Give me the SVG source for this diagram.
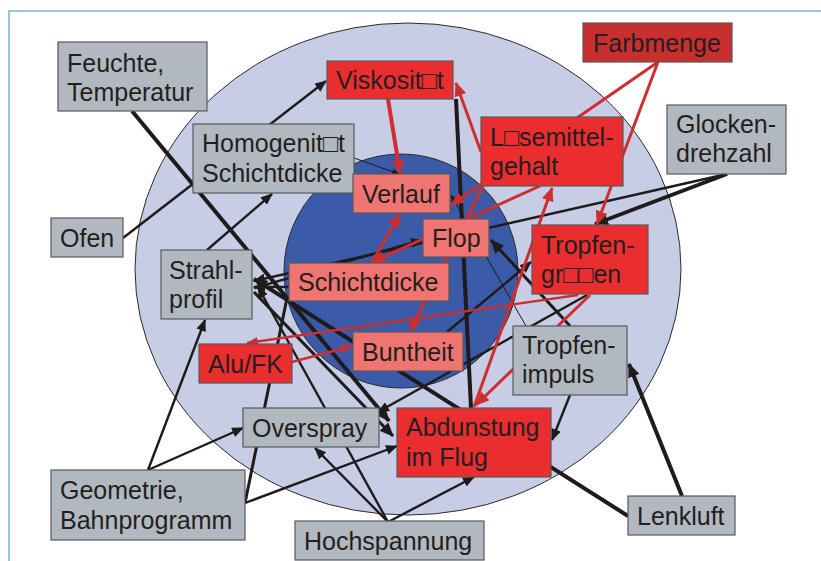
<svg xmlns="http://www.w3.org/2000/svg" width="821" height="561" viewBox="0 0 821 561">
<style>
.frame{stroke:#7ab0d8;stroke-width:1.5;fill:none}
.node rect{stroke:#58595b;stroke-width:1.2}
.gray rect{fill:#b2b8bf}
.red rect{fill:#ea2e2f}
.dred rect{fill:#c92f2f}
.pink rect{fill:#f07572}
.node text{font-family:"Liberation Sans",Arial,sans-serif;font-size:25px;fill:#231f20}
.c path{fill:none}
.bk{stroke:#1f1a1b}
.rd{stroke:#cf2e2e}
.w4{stroke-width:4}
.w3{stroke-width:3}
.w2{stroke-width:2.4}
.w1{stroke-width:1}
</style>
<defs>
<marker id="ab" viewBox="0 0 14 12" refX="13" refY="6" markerWidth="14" markerHeight="12" markerUnits="userSpaceOnUse" orient="auto"><path d="M0,0 L14,6 L0,12 z" fill="#1f1a1b"/></marker>
<marker id="am" viewBox="0 0 12 10" refX="11" refY="5" markerWidth="12" markerHeight="10" markerUnits="userSpaceOnUse" orient="auto"><path d="M0,0 L12,5 L0,10 z" fill="#1f1a1b"/></marker>
<marker id="as" viewBox="0 0 8 6" refX="7" refY="3" markerWidth="8" markerHeight="6" markerUnits="userSpaceOnUse" orient="auto"><path d="M0,0 L8,3 L0,6 z" fill="#1f1a1b"/></marker>
<marker id="ar" viewBox="0 0 14 12" refX="13" refY="6" markerWidth="14" markerHeight="12" markerUnits="userSpaceOnUse" orient="auto"><path d="M0,0 L14,6 L0,12 z" fill="#cf2e2e"/></marker>
<marker id="ars" viewBox="0 0 12 9" refX="11" refY="4.5" markerWidth="12" markerHeight="9" markerUnits="userSpaceOnUse" orient="auto"><path d="M0,0 L12,4.5 L0,9 z" fill="#cf2e2e"/></marker>
</defs>
<rect width="821" height="561" fill="#ffffff"/>
<path class="frame" d="M9,561 L9,11 L821,11"/>
<ellipse cx="408" cy="269" rx="273" ry="246" fill="#c8cde6" stroke="#2b2b2b" stroke-width="1"/>
<circle cx="401" cy="271" r="117" fill="#3b5ba8" stroke="#2b2b2b" stroke-width="1"/>
<g id="connectors" class="c">
<path class="bk w4" d="M132,111 L389,421" marker-end="url(#ab)"/>
<path class="bk w4" d="M628,516 L254,279" marker-end="url(#ab)"/>
<path class="bk w4" d="M682,496 L629,364" marker-end="url(#ab)"/>
<path class="bk w3" d="M570,326 L491,240" marker-end="url(#ab)"/>
<path class="bk w4" d="M727,174 L595,224" marker-end="url(#ab)"/>
<path class="bk w4" d="M456,99 L471,408"/>
<path class="bk w3" d="M245,503 L287,298"/>
<path class="bk w2" d="M123,238 L326,81" marker-end="url(#am)"/>
<path class="bk w2" d="M207,250 L272,194" marker-end="url(#am)"/>
<path class="bk w2" d="M148,470 L205,320" marker-end="url(#am)"/>
<path class="bk w2" d="M148,470 L243,428" marker-end="url(#am)"/>
<path class="bk w2" d="M245,503 L397,446" marker-end="url(#am)"/>
<path class="bk w2" d="M388,522 L315,448" marker-end="url(#am)"/>
<path class="bk w2" d="M388,522 L474,477" marker-end="url(#am)"/>
<path class="bk w2" d="M388,522 L258,287" marker-end="url(#am)"/>
<path class="bk w2" d="M570,395 L552,440" marker-end="url(#am)"/>
<path class="bk w2" d="M727,174 L254,281" marker-end="url(#am)"/>
<path class="bk w2" d="M254,288 L422,240" marker-end="url(#am)"/>
<path class="bk w2" d="M289,287 L254,287" marker-end="url(#am)"/>
<path class="bk w2" d="M447,332 L531,262" marker-end="url(#am)"/>
<path class="bk w3" d="M254,292 L393,436" marker-end="url(#ab)"/>
<path class="bk w2" d="M587,295 L378,412" marker-end="url(#am)"/>
<path class="bk w1" d="M354,158 L399,174" marker-end="url(#as)"/>
<path class="bk w1" d="M526,326 L451,195" marker-end="url(#as)"/>
<path class="rd w4" d="M388,99 L400,173" marker-end="url(#ar)"/>
<path class="rd w3" d="M481,152 L456,83" marker-end="url(#ar)"/>
<path class="rd w3" d="M658,62 L451,205" marker-end="url(#ar)"/>
<path class="rd w3" d="M658,62 L597,224" marker-end="url(#ar)"/>
<path class="rd w3" d="M474,407 L552,188" marker-end="url(#ar)"/>
<path class="rd w3" d="M590,295 L476,405" marker-end="url(#ar)"/>
<path class="rd w3" d="M540,186 L372,262" marker-end="url(#ar)"/>
<path class="rd w3" d="M372,262 L400,214" marker-end="url(#ar)"/>
<path class="rd w3" d="M483,186 L410,331" marker-end="url(#ar)"/>
<path class="rd w2" d="M578,295 L247,343" marker-end="url(#ars)"/>
<path class="rd w2" d="M292,362 L352,346" marker-end="url(#ars)"/>
</g>
<g id="feuchte" class="node gray"><rect x="58" y="42" width="149" height="69"/><text x="67" y="72">Feuchte,</text><text x="67" y="101">Temperatur</text></g>
<g id="viskositaet" class="node red"><rect x="327" y="61" width="126" height="38"/><text x="336" y="89">Viskosit□t</text></g>
<g id="farbmenge" class="node dred"><rect x="583" y="23" width="149" height="39"/><text x="593" y="52">Farbmenge</text></g>
<g id="homogenitaet" class="node gray"><rect x="193" y="124" width="161" height="69"/><text x="202" y="152">Homogenit□t</text><text x="202" y="182">Schichtdicke</text></g>
<g id="loesemittel" class="node red"><rect x="481" y="117" width="142" height="69"/><text x="490" y="146">L□semittel-</text><text x="490" y="175">gehalt</text></g>
<g id="glocken" class="node gray"><rect x="667" y="105" width="119" height="69"/><text x="676" y="133">Glocken-</text><text x="676" y="162">drehzahl</text></g>
<g id="ofen" class="node gray"><rect x="51" y="218" width="72" height="39"/><text x="60" y="247">Ofen</text></g>
<g id="verlauf" class="node pink"><rect x="353" y="174" width="97" height="39"/><text x="362" y="203">Verlauf</text></g>
<g id="flop" class="node pink"><rect x="423" y="219" width="66" height="38"/><text x="432" y="247">Flop</text></g>
<g id="schichtdicke" class="node pink"><rect x="289" y="263" width="160" height="38"/><text x="298" y="291">Schichtdicke</text></g>
<g id="strahlprofil" class="node gray"><rect x="161" y="250" width="91" height="69"/><text x="169" y="279">Strahl-</text><text x="169" y="308">profil</text></g>
<g id="tropfengroessen" class="node red"><rect x="532" y="225" width="116" height="69"/><text x="541" y="254">Tropfen-</text><text x="541" y="283">gr□□en</text></g>
<g id="alufk" class="node red"><rect x="199" y="344" width="93" height="39"/><text x="208" y="373">Alu/FK</text></g>
<g id="buntheit" class="node pink"><rect x="353" y="332" width="110" height="39"/><text x="362" y="361">Buntheit</text></g>
<g id="tropfenimpuls" class="node gray"><rect x="513" y="326" width="114" height="69"/><text x="522" y="354">Tropfen-</text><text x="522" y="383">impuls</text></g>
<g id="overspray" class="node gray"><rect x="243" y="408" width="136" height="39"/><text x="252" y="437">Overspray</text></g>
<g id="abdunstung" class="node red"><rect x="397" y="408" width="154" height="69"/><text x="406" y="436">Abdunstung</text><text x="406" y="466">im Flug</text></g>
<g id="geometrie" class="node gray"><rect x="51" y="470" width="194" height="70"/><text x="60" y="499">Geometrie,</text><text x="60" y="529">Bahnprogramm</text></g>
<g id="hochspannung" class="node gray"><rect x="295" y="521" width="189" height="39"/><text x="304" y="550">Hochspannung</text></g>
<g id="lenkluft" class="node gray"><rect x="628" y="496" width="107" height="39"/><text x="637" y="525">Lenkluft</text></g>
</svg>
